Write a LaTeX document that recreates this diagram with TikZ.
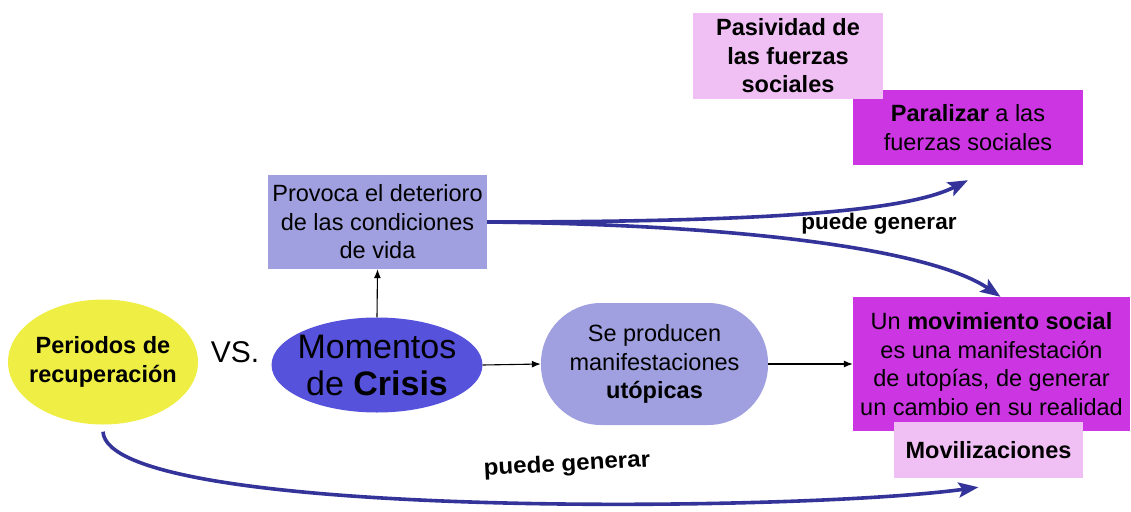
\documentclass[tikz,border=0pt]{standalone}
\usepackage{fontspec}
\setmainfont{Liberation Sans}
\usetikzlibrary{arrows.meta,shapes.geometric}
\definecolor{lav}{RGB}{160,160,224}
\definecolor{yel}{RGB}{238,238,68}
\definecolor{crisis}{RGB}{86,82,220}
\definecolor{mag}{RGB}{204,54,226}
\definecolor{pink}{RGB}{240,192,245}
\definecolor{navy}{RGB}{51,51,153}
\begin{document}
\begin{tikzpicture}[x=1pt,y=-1pt,
  body/.style={font=\fontsize{23.5}{28.5}\selectfont, align=center, inner sep=0pt},
  boxa/.style={body, rectangle, minimum width=#1},
  thin/.style={-{Latex[length=9pt,width=7pt]}, line width=1.1pt, black},
  thick/.style={-{Stealth[length=20pt,width=15pt,inset=4pt]}, line width=3.6pt, navy},
  lbl/.style={font=\fontsize{22.5}{26}\selectfont\bfseries, inner sep=0pt}
]
\path[use as bounding box] (0,0) rectangle (1131,511);

% boxes
\node[boxa=230pt, fill=mag, minimum height=75pt] (par) at (968,127.5) {\textbf{Paralizar} a las\\fuerzas sociales};
\node[boxa=190pt, fill=pink, minimum height=86pt] (pas) at (788,56) {\textbf{Pasividad de}\\\textbf{las fuerzas}\\\textbf{sociales}};
\node[boxa=219pt, fill=lav, minimum height=94pt] (prov) at (377.5,222) {Provoca el deterioro\\de las condiciones\\de vida};
\node[body, ellipse, fill=yel, inner xsep=-10pt, minimum width=190pt, minimum height=125pt] (per) at (103,362) {\textbf{Periodos de}\\\textbf{recuperación}};
\node[font=\fontsize{30}{34}\selectfont, inner sep=0pt] (vs) at (235,352) {VS.};
\node[ellipse, fill=crisis, minimum width=211pt, minimum height=95pt, inner xsep=-12pt, inner ysep=-8pt, align=center, font=\fontsize{34}{37}\selectfont] (cri) at (377,365) {Momentos\\de \textbf{Crisis}};
\node[boxa=227pt, fill=lav, minimum height=122pt, rounded corners=60pt] (man) at (654.5,364) {Se producen\\manifestaciones\\\textbf{utópicas}};
\node[boxa=277pt, fill=mag, minimum height=134pt] (mov) at (991.5,364) {Un \textbf{movimiento social}\\es una manifestación\\de utopías, de generar\\un cambio en su realidad};
\node[boxa=189pt, fill=pink, minimum height=56pt] (movil) at (988.5,450) {\textbf{Movilizaciones}};

% thin arrows
\draw[thin] (cri.north) -- (prov.south);
\draw[thin] (cri.east) -- (man.west);
\draw[thin] (man.east) -- (mov.west);

% thick curved arrows
\draw[thick] (prov.east) .. controls (760,222) and (905,212) .. ([yshift=-15pt]par.south);
\draw[thick] (prov.east) .. controls (760,225) and (935,252) .. ([xshift=9pt]mov.north);
\draw[thick] ([yshift=-7pt]per.south) .. controls (108,520) and (800,512) .. ([xshift=-10pt,yshift=-9pt]movil.south);

% labels
\node[lbl] (l1) at (879,224) {puede generar};
\node[lbl, font=\fontsize{23}{26}\selectfont\bfseries, rotate=3, xscale=1.05] (l2) at (567,465) {puede generar};
\end{tikzpicture}
\end{document}
